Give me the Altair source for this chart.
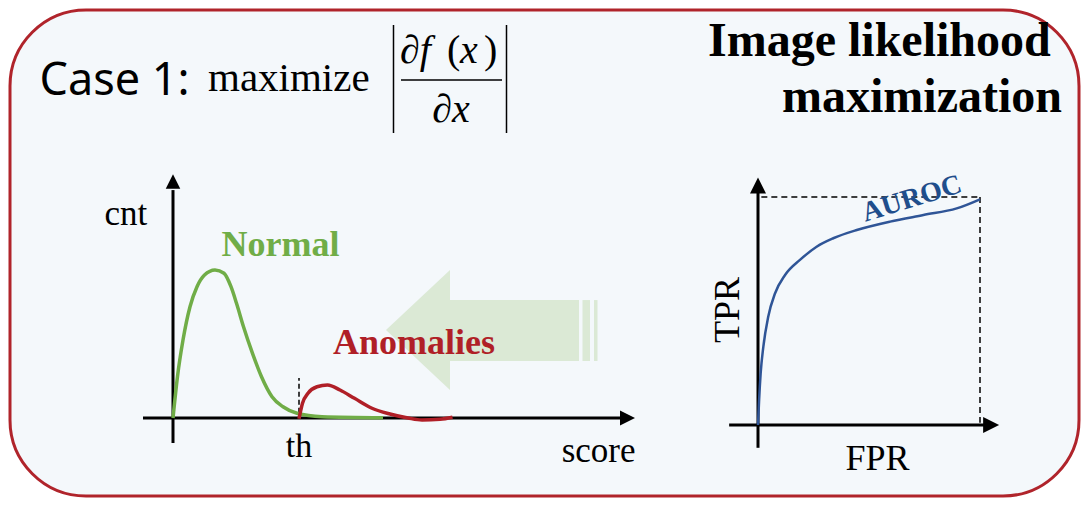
import altair as alt
import pandas as pd

# ---------------- data ----------------
# Left panel: score distribution (score units, cnt units)
normal_score = [0.0, 0.09, 0.20, 0.34, 0.48, 0.63, 0.84, 1.02, 1.16, 1.27, 1.41, 1.59, 1.77, 1.98, 2.20, 2.48, 2.98, 4.20]
normal_cnt = [0.0, 2.81, 5.27, 7.52, 8.87, 9.66, 10.0, 9.78, 8.87, 7.75, 6.17, 4.37, 2.79, 1.44, 0.76, 0.32, 0.09, 0.02]
anom_score = [2.52, 2.59, 2.70, 2.88, 3.09, 3.34, 3.63, 3.98, 4.34, 4.70, 4.98, 5.34, 5.59]
anom_cnt = [-0.05, 1.0, 1.67, 2.11, 2.23, 1.89, 1.33, 0.66, 0.27, 0.0, -0.14, -0.09, 0.05]
threshold = 2.52
threshold_cnt = [0.35, 2.7]

# Left panel axes extents
score_axis = [-0.6, 8.98]
cnt_axis = [-1.69, 15.4]
score_arrow = 9.09
cnt_arrow = 15.98

# Big "shift" arrow (score / cnt units)
arrow_head_score = [4.26, 5.54]
arrow_head_hi = [5.95, 10.0]
arrow_head_lo = [5.95, 1.89]
arrow_bars_x0 = [5.52, 8.19, 8.42]
arrow_bars_x1 = [8.12, 8.34, 8.49]
arrow_bars_y0 = [3.85, 3.85, 3.85]
arrow_bars_y1 = [7.97, 7.97, 7.97]

# Right panel: ROC curve
fpr = [0.0, 0.005, 0.012, 0.024, 0.046, 0.077, 0.122, 0.189, 0.264, 0.339, 0.445, 0.595, 0.745, 0.895, 1.0]
tpr = [0.0, 0.11, 0.227, 0.343, 0.475, 0.578, 0.658, 0.724, 0.782, 0.819, 0.855, 0.892, 0.921, 0.950, 0.99]
fpr_axis = [-0.13, 1.02]
tpr_axis = [-0.1, 1.02]
roc_arrow = 1.05

# Texts
case_label = "Case 1:"
maximize_label = "maximize"
numerator_parts = ["∂f", "(", "x", ")"]
denominator_label = "∂x"
title_lines = ["Image likelihood", "maximization"]
normal_label = "Normal"
anom_label = "Anomalies"
cnt_label = "cnt"
score_label = "score"
th_label = "th"
tpr_label = "TPR"
fpr_label = "FPR"
auroc_label = "AUROC"

# ---------------- styles ----------------
GREEN = "#70ad47"
RED = "#b01f27"
BLUE = "#2f5597"
ARROW = "#dbe9d5"
SERIF = "Liberation Serif"

def sc(domain, rng):
    return alt.Scale(domain=domain, range=rng, nice=False, zero=False)

SX = sc([0, 10], [163, 663])
SY = sc([0, 10], [408, 260])
RX = sc([0, 1], [748, 970])
RY = sc([0, 1], [415, 187])

def X(f, s):
    return alt.X(f, type="quantitative", scale=s, axis=None)

def Y(f, s):
    return alt.Y(f, type="quantitative", scale=s, axis=None)

def text(label, x, y, **kw):
    return alt.Chart(alt.Data(values=[{"t": label}])).mark_text(**kw).encode(
        x=alt.value(x), y=alt.value(y), text="t:N")

layers = []

# big arrow
layers.append(alt.Chart(pd.DataFrame({"s": arrow_head_score, "hi": arrow_head_hi, "lo": arrow_head_lo}))
              .mark_area(color=ARROW, opacity=1)
              .encode(x=X("s", SX), y=Y("hi", SY), y2="lo"))
layers.append(alt.Chart(pd.DataFrame({"a": arrow_bars_x0, "b": arrow_bars_x1, "c": arrow_bars_y0, "d": arrow_bars_y1}))
              .mark_rect(color=ARROW, opacity=1)
              .encode(x=X("a", SX), x2="b", y=Y("c", SY), y2="d"))

# left axes
left_axes = pd.DataFrame({"x": [score_axis[0], 0.0], "x2": [score_axis[1], 0.0],
                          "y": [0.0, cnt_axis[0]], "y2": [0.0, cnt_axis[1]]})
layers.append(alt.Chart(left_axes).mark_rule(color="black", strokeWidth=3)
              .encode(x=X("x", SX), x2="x2", y=Y("y", SY), y2="y2"))
layers.append(alt.Chart(pd.DataFrame({"x": [score_arrow], "y": [0.0]}))
              .mark_point(shape="M-1,-1L1,0L-1,1Z", filled=True, size=225, color="black", opacity=1, strokeWidth=0)
              .encode(x=X("x", SX), y=Y("y", SY)))
layers.append(alt.Chart(pd.DataFrame({"x": [0.0], "y": [cnt_arrow]}))
              .mark_point(shape="M-1,1L0,-1L1,1Z", filled=True, size=210, color="black", opacity=1, strokeWidth=0)
              .encode(x=X("x", SX), y=Y("y", SY)))

# threshold
layers.append(alt.Chart(pd.DataFrame({"x": [threshold], "y": [threshold_cnt[0]], "y2": [threshold_cnt[1]]}))
              .mark_rule(color="black", strokeWidth=1.5, strokeDash=[5, 3])
              .encode(x=X("x", SX), y=Y("y", SY), y2="y2"))

# curves
layers.append(alt.Chart(pd.DataFrame({"s": normal_score, "c": normal_cnt}))
              .mark_line(color=GREEN, strokeWidth=3.5, interpolate="monotone")
              .encode(x=X("s", SX), y=Y("c", SY)))
layers.append(alt.Chart(pd.DataFrame({"s": anom_score, "c": anom_cnt}))
              .mark_line(color=RED, strokeWidth=3.5, interpolate="monotone")
              .encode(x=X("s", SX), y=Y("c", SY)))

# right axes
right_axes = pd.DataFrame({"x": [fpr_axis[0], 0.0], "x2": [fpr_axis[1], 0.0],
                           "y": [0.0, tpr_axis[0]], "y2": [0.0, tpr_axis[1]]})
layers.append(alt.Chart(right_axes).mark_rule(color="black", strokeWidth=3)
              .encode(x=X("x", RX), x2="x2", y=Y("y", RY), y2="y2"))
layers.append(alt.Chart(pd.DataFrame({"x": [roc_arrow], "y": [0.0]}))
              .mark_point(shape="M-1,-1L1,0L-1,1Z", filled=True, size=256, color="black", opacity=1, strokeWidth=0)
              .encode(x=X("x", RX), y=Y("y", RY)))
layers.append(alt.Chart(pd.DataFrame({"x": [0.0], "y": [roc_arrow]}))
              .mark_point(shape="M-1,1L0,-1L1,1Z", filled=True, size=256, color="black", opacity=1, strokeWidth=0)
              .encode(x=X("x", RX), y=Y("y", RY)))

# dashed AUROC box
box = pd.DataFrame({"x": [0.015, 1.0], "x2": [1.0, 1.0], "y": [1.0, 1.0], "y2": [1.0, 0.01]})
layers.append(alt.Chart(box).mark_rule(color="black", strokeWidth=1.5, strokeDash=[6, 4])
              .encode(x=X("x", RX), x2="x2", y=Y("y", RY), y2="y2"))

# ROC curve
layers.append(alt.Chart(pd.DataFrame({"f": fpr, "t": tpr}))
              .mark_line(color=BLUE, strokeWidth=2.5, interpolate="monotone")
              .encode(x=X("f", RX), y=Y("t", RY)))

# formula bars / fraction line
layers.append(alt.Chart(alt.Data(values=[{"k": 1}])).mark_rule(color="black", strokeWidth=1.5)
              .encode(x=alt.value(383.5), y=alt.value(15), y2=alt.value(123)))
layers.append(alt.Chart(alt.Data(values=[{"k": 1}])).mark_rule(color="black", strokeWidth=1.5)
              .encode(x=alt.value(496.5), y=alt.value(15), y2=alt.value(123)))
layers.append(alt.Chart(alt.Data(values=[{"k": 1}])).mark_rule(color="black", strokeWidth=1.5)
              .encode(x=alt.value(391), x2=alt.value(492), y=alt.value(70)))

# texts
layers.append(text(case_label, 29.5, 85, font="Noto Sans", fontSize=45, align="left", baseline="alphabetic", color="black"))
layers.append(text(maximize_label, 198, 81, font=SERIF, fontSize=41, align="left", baseline="alphabetic", color="black"))
num_x = [390, 437, 450, 474]
num_style = ["italic", "normal", "italic", "normal"]
for part, px, st in zip(numerator_parts, num_x, num_style):
    layers.append(text(part, px, 53, font=SERIF, fontSize=40, fontStyle=st, align="left", baseline="alphabetic", color="black"))
layers.append(text(denominator_label, 441, 112, font=SERIF, fontSize=40, fontStyle="italic", align="center", baseline="alphabetic", color="black"))
layers.append(text(title_lines[0], 698, 46, font=SERIF, fontSize=48, fontWeight="bold", align="left", baseline="alphabetic", color="black"))
layers.append(text(title_lines[1], 772, 102, font=SERIF, fontSize=48, fontWeight="bold", align="left", baseline="alphabetic", color="black"))
layers.append(text(normal_label, 211.5, 246, font=SERIF, fontSize=36, fontWeight="bold", align="left", baseline="alphabetic", color=GREEN))
layers.append(text(anom_label, 323, 344, font=SERIF, fontSize=36, fontWeight="bold", align="left", baseline="alphabetic", color=RED))
layers.append(text(cnt_label, 94.5, 215, font=SERIF, fontSize=35, align="left", baseline="alphabetic", color="black"))
layers.append(text(score_label, 625.5, 452, font=SERIF, fontSize=35, align="right", baseline="alphabetic", color="black"))
layers.append(alt.Chart(alt.Data(values=[{"t": th_label, "s": threshold}]))
              .mark_text(font=SERIF, fontSize=34, align="center", baseline="alphabetic", color="black")
              .encode(x=X("s", SX), y=alt.value(446.5), text="t:N"))
layers.append(text(tpr_label, 717.5, 300, font=SERIF, fontSize=36, angle=270, align="center", baseline="middle", color="black"))
layers.append(text(fpr_label, 867.5, 460, font=SERIF, fontSize=36, align="center", baseline="alphabetic", color="black"))
layers.append(text(auroc_label, 902, 189, font=SERIF, fontSize=28, fontWeight="bold", angle=343, align="center", baseline="middle", color="#1f4e8c"))

chart = alt.layer(*layers).resolve_scale(x="independent", y="independent").properties(
    width=1069, height=486,
    autosize=alt.AutoSizeParams(type="none"),
    padding={"left": 2, "top": 2, "right": 2, "bottom": 2},
).configure(background="white").configure_view(
    fill="#f4f8fb", stroke="#b0242b", strokeWidth=3, cornerRadius=76
)

chart.save("out.html", embed_options={"renderer": "svg", "actions": False})
